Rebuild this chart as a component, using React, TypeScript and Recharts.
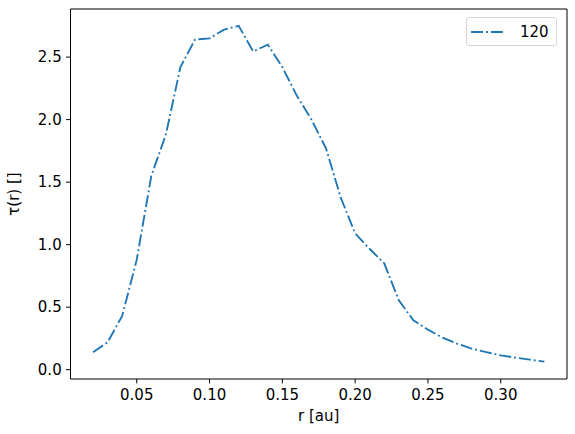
import { LineChart, Line, XAxis, YAxis, Legend } from "recharts";

const radius = [
  0.02, 0.03, 0.04, 0.05, 0.06, 0.07, 0.08, 0.09, 0.1, 0.11, 0.12, 0.13, 0.14, 0.15, 0.16, 0.17,
  0.18, 0.19, 0.2, 0.21, 0.22, 0.23, 0.24, 0.25, 0.26, 0.27, 0.28, 0.29, 0.3, 0.31, 0.32, 0.33,
];
const tau120 = [
  0.14, 0.22, 0.43, 0.88, 1.55, 1.88, 2.42, 2.64, 2.65, 2.72, 2.75, 2.545, 2.6, 2.42, 2.19, 2.0,
  1.77, 1.38, 1.09, 0.965, 0.85, 0.555, 0.395, 0.32, 0.256, 0.208, 0.168, 0.141, 0.115, 0.096, 0.08, 0.064,
];
const xTicks = [0.05, 0.1, 0.15, 0.2, 0.25, 0.3];
const yTicks = [0, 0.5, 1, 1.5, 2, 2.5];
const seriesName = "120";

const data = radius.map((r, i) => ({ r, tau: tau120[i] }));

const FONT = "'DejaVu Sans', sans-serif";
const FS = 15;
const BLUE = "#1f77b4";
const tickStyle = { fill: "#000", fontSize: FS, fontFamily: FONT };

function LegendBox() {
  return (
    <div
      style={{
        width: 89,
        height: 27,
        border: "1px solid #d6d6d6",
        borderRadius: 3,
        background: "rgba(255,255,255,0.8)",
        display: "flex",
        alignItems: "center",
        fontFamily: FONT,
        fontSize: FS,
        color: "#000",
        boxSizing: "content-box",
      }}
    >
      <svg width={34} height={4} style={{ marginLeft: 4 }}>
        <line x1={0} y1={2} x2={34} y2={2} stroke={BLUE} strokeWidth={1.875} strokeDasharray="12 3 1.9 3" />
      </svg>
      <span style={{ marginLeft: 15 }}>{seriesName}</span>
    </div>
  );
}

export default function App() {
  return (
    <div style={{ position: "absolute", left: 0, top: 0 }}>
      <LineChart width={575} height={434} data={data} margin={{ top: 9, right: 8, bottom: 0, left: 0 }}>
        <XAxis
          dataKey="r"
          type="number"
          domain={[0.0045, 0.3455]}
          ticks={xTicks}
          tickFormatter={(v: number) => v.toFixed(2)}
          allowDataOverflow
          height={55}
          tickSize={4.4}
          tickMargin={6}
          fontSize={FS}
          fontFamily={FONT}
          tick={tickStyle}
          axisLine={{ stroke: "#000", strokeWidth: 1 }}
          tickLine={{ stroke: "#000", strokeWidth: 1 }}
          label={(props: any) => {
            const vb = props.viewBox;
            return (
              <text x={vb.x + vb.width / 2} y={vb.y + 42} textAnchor="middle" fill="#000" fontSize={FS} fontFamily={FONT}>
                r [au]
              </text>
            );
          }}
        />
        <XAxis
          xAxisId="top"
          orientation="top"
          dataKey="r"
          type="number"
          domain={[0.0045, 0.3455]}
          allowDataOverflow
          height={0.01}
          tick={false}
          tickLine={false}
          axisLine={{ stroke: "#000", strokeWidth: 1 }}
        />
        <YAxis
          type="number"
          domain={[-0.0745, 2.8845]}
          ticks={yTicks}
          tickFormatter={(v: number) => v.toFixed(1)}
          allowDataOverflow
          width={70.5}
          tickSize={4.4}
          tickMargin={4.4}
          fontSize={FS}
          fontFamily={FONT}
          tick={tickStyle}
          axisLine={{ stroke: "#000", strokeWidth: 1 }}
          tickLine={{ stroke: "#000", strokeWidth: 1 }}
          label={(props: any) => {
            const vb = props.viewBox;
            const cy = vb.y + vb.height / 2;
            return (
              <text x={19} y={cy} transform={`rotate(-90, 19, ${cy})`} textAnchor="middle" fill="#000" fontSize={FS} fontFamily={FONT}>
                τ(r) []
              </text>
            );
          }}
        />
        <YAxis
          yAxisId="right"
          orientation="right"
          type="number"
          domain={[-0.0745, 2.8845]}
          allowDataOverflow
          width={0.01}
          tick={false}
          tickLine={false}
          axisLine={{ stroke: "#000", strokeWidth: 1 }}
        />
        <Legend
          layout="horizontal"
          verticalAlign="middle"
          align="center"
          wrapperStyle={{ left: 466, top: 17, width: 91 }}
          content={() => <LegendBox />}
        />
        <Line
          dataKey="tau"
          name={seriesName}
          stroke={BLUE}
          strokeWidth={1.875}
          strokeDasharray="12 3 1.9 3"
          dot={false}
          activeDot={false}
          isAnimationActive={false}
        />
      </LineChart>
    </div>
  );
}
